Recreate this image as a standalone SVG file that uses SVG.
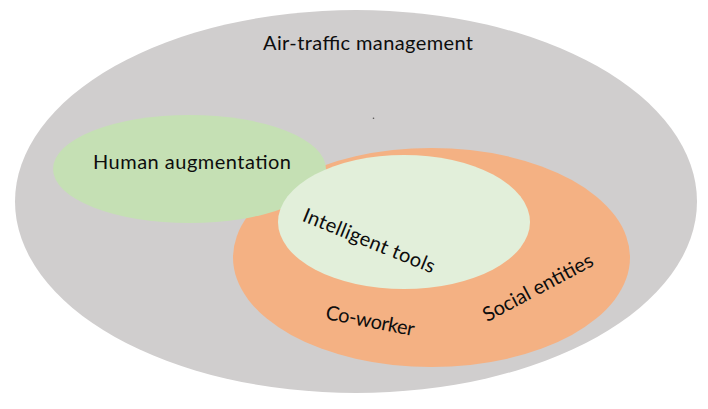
<svg xmlns="http://www.w3.org/2000/svg" width="708" height="409" viewBox="0 0 708 409">
<style>
.lbl{font-family:Lato,"Liberation Sans",sans-serif;font-size:20px;fill:#0d0d0d}
</style>
<rect width="708" height="409" fill="#ffffff"/>
<g id="air-traffic-management">
<ellipse cx="356" cy="201.5" rx="341" ry="191.5" fill="#D0CECE"/>
<text class="lbl" x="368" y="50" text-anchor="middle" textLength="210">Air-traffic management</text>
<circle cx="373.5" cy="118.3" r="0.8" fill="#555"/>
</g>
<g id="social-entities">
<ellipse cx="431.5" cy="257.5" rx="198.5" ry="109.5" fill="#F4B183"/>
<text class="lbl" transform="rotate(-28 541 293.5)" x="541" y="293.5" text-anchor="middle" textLength="122">Social entities</text>
</g>
<g id="co-worker">
<text class="lbl" transform="rotate(11 369 327.5)" x="369" y="327.5" text-anchor="middle" textLength="90">Co-worker</text>
</g>
<g id="human-augmentation">
<ellipse cx="189.5" cy="169" rx="136.5" ry="54" fill="#C5E0B4"/>
<text class="lbl" x="192" y="169" text-anchor="middle" textLength="198">Human augmentation</text>
</g>
<g id="intelligent-tools">
<ellipse cx="404" cy="222" rx="126" ry="67" fill="#E2EFDA"/>
<text class="lbl" transform="rotate(22 366.5 247)" x="366.5" y="247" text-anchor="middle" textLength="141">Intelligent tools</text>
</g>
</svg>
